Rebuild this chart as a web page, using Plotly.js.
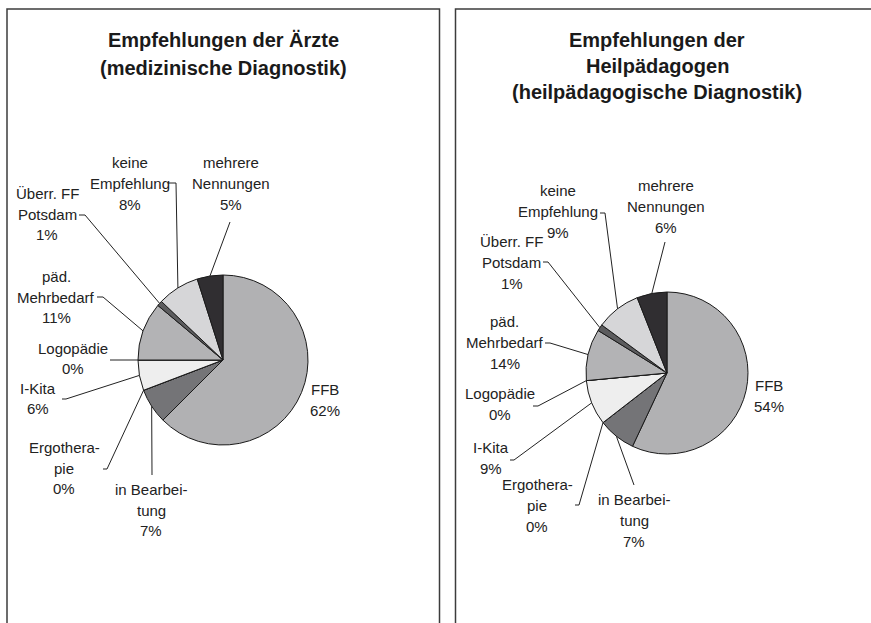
<!DOCTYPE html>
<html>
<head>
<meta charset="utf-8">
<script src="https://cdn.plot.ly/plotly-3.0.1.min.js"></script>
<style>
  html, body { margin: 0; padding: 0; background: #fff; }
  #chart { width: 871px; height: 623px; }
</style>
</head>
<body>
<div id="chart"></div>
<script>
// slice order: clockwise from 12 o'clock
const categories = ['FFB', 'in Bearbeitung', 'Ergotherapie', 'I-Kita', 'Logopädie',
    'päd. Mehrbedarf', 'Überr. FF Potsdam', 'keine Empfehlung', 'mehrere Nennungen'];

// label text as printed, broken the way the source breaks it
const labelLines = [['FFB'], ['in Bearbei-', 'tung'], ['Ergothera-', 'pie'], ['I-Kita'], ['Logopädie'],
    ['päd.', 'Mehrbedarf'], ['Überr. FF', 'Potsdam'], ['keine', 'Empfehlung'], ['mehrere', 'Nennungen']];

// slice sizes as drawn
const aerzteValues = [62.5, 6.7, 0, 5.8, 0, 11.1, 1.0, 8.0, 4.9];
const heilpaedValues = [57.0, 7.5, 0, 9.0, 0, 10.3, 1.3, 8.9, 6.0];

// percentages as printed (right chart's labels don't quite match its slices)
const aerztePct = ['62%', '7%', '0%', '6%', '0%', '11%', '1%', '8%', '5%'];
const heilpaedPct = ['54%', '7%', '0%', '9%', '0%', '14%', '1%', '9%', '6%'];

const aerzteTitle = ['Empfehlungen der Ärzte', '(medizinische Diagnostik)'];
const heilpaedTitle = ['Empfehlungen der', 'Heilpädagogen', '(heilpädagogische Diagnostik)'];

const sliceColors = ['#b1b1b3', '#747477', '#ffffff', '#eeeeee', '#ffffff',
    '#b3b3b5', '#5c5c5e', '#d6d6d8', '#302e31'];

const W = 871, H = 623;
const px = (x) => x / W;
const py = (y) => 1 - y / H;
const FONT = 'Liberation Sans, Arial, sans-serif';

// panel layout in pixels
const panels = [
    {
        values: aerzteValues, pct: aerztePct, title: aerzteTitle,
        pie: {cx: 223, cy: 360, r: 85},
        frame: [7, 9, 439.5],
        titleX: 223, titleY: 40, titleStep: 28,
        lineStep: 20.5,
        // label block centre, then leader points before the pie edge
        labels: [
            {x: 325, y: 400, lead: null},
            {x: 151, y: 510, lead: [[152, 475]]},
            {x: 64, y: 468, lead: [[103, 469], [107, 469]]},
            {x: 38, y: 398.5, lead: [[62, 399], [66, 399]]},
            {x: 73, y: 358.5, lead: [[110, 360]]},
            {x: 56, y: 297, lead: [[97, 297], [103, 297]]},
            {x: 47, y: 214, lead: [[79, 215], [85, 215]]},
            {x: 130, y: 183.5, lead: [[168, 183], [176, 183]]},
            {x: 231, y: 183.5, lead: [[230, 222]]},
        ],
    },
    {
        values: heilpaedValues, pct: heilpaedPct, title: heilpaedTitle,
        pie: {cx: 667, cy: 373, r: 81},
        frame: [455.5, 9, 1000],
        titleX: 657, titleY: 40, titleStep: 26,
        lineStep: 21,
        labels: [
            {x: 769, y: 396, lead: null},
            {x: 634, y: 520, lead: [[634, 485]]},
            {x: 537, y: 505, lead: [[575, 505], [579, 505]]},
            {x: 491, y: 458, lead: [[510, 460], [514, 460]]},
            {x: 499.5, y: 404, lead: [[533, 406], [538, 406]]},
            {x: 505, y: 342.5, lead: [[545, 343], [550, 343]]},
            {x: 511.5, y: 262, lead: [[543, 262], [548, 262]]},
            {x: 558, y: 211.5, lead: [[600, 213], [605, 213]]},
            {x: 666, y: 206, lead: [[665, 242]]},
        ],
    },
];

const data = [];
const annotations = [];
const shapes = [];

panels.forEach((p) => {
    const {cx, cy, r} = p.pie;

    data.push({
        type: 'pie',
        labels: categories,
        values: p.values,
        sort: false,
        direction: 'clockwise',
        rotation: 0,
        textinfo: 'none',
        hoverinfo: 'label+text',
        text: p.pct,
        showlegend: false,
        marker: {colors: sliceColors, line: {color: '#1a1a1a', width: 1}},
        domain: {x: [px(cx - r), px(cx + r)], y: [py(cy + r), py(cy - r)]},
    });

    shapes.push({
        type: 'rect', xref: 'paper', yref: 'paper',
        x0: px(p.frame[0]), x1: px(p.frame[2]), y0: py(p.frame[1]), y1: py(H + 50),
        line: {color: '#3c3c3c', width: 1.5},
    });

    p.title.forEach((line, i) => {
        annotations.push({
            xref: 'paper', yref: 'paper', showarrow: false,
            x: px(p.titleX), y: py(p.titleY + i * p.titleStep),
            xanchor: 'center', yanchor: 'middle',
            text: line,
            font: {family: FONT, size: 20, weight: 700, color: '#1a1a1a'},
        });
    });

    const total = p.values.reduce((a, b) => a + b, 0);
    let cum = 0;
    p.values.forEach((v, i) => {
        const mid = (cum + v / 2) / total * 2 * Math.PI;
        cum += v;
        const edge = [cx + r * Math.sin(mid), cy - r * Math.cos(mid)];

        const lab = p.labels[i];
        const lines = labelLines[i].concat([p.pct[i]]);
        lines.forEach((line, k) => {
            annotations.push({
                xref: 'paper', yref: 'paper', showarrow: false,
                x: px(lab.x), y: py(lab.y + (k - (lines.length - 1) / 2) * p.lineStep),
                xanchor: 'center', yanchor: 'middle',
                text: line,
                font: {family: FONT, size: 15, color: '#222222'},
            });
        });

        if (lab.lead) {
            const pts = lab.lead.concat([edge]);
            const path = pts.map((pt, k) => (k ? 'L' : 'M') + px(pt[0]) + ',' + py(pt[1])).join(' ');
            shapes.push({
                type: 'path', xref: 'paper', yref: 'paper', path: path,
                line: {color: '#222222', width: 1},
            });
        }
    });
});

const layout = {
    width: W,
    height: H,
    margin: {l: 0, r: 0, t: 0, b: 0},
    paper_bgcolor: '#ffffff',
    plot_bgcolor: '#ffffff',
    annotations: annotations,
    shapes: shapes,
};

Plotly.newPlot('chart', data, layout, {displayModeBar: false, staticPlot: true});
</script>
</body>
</html>
